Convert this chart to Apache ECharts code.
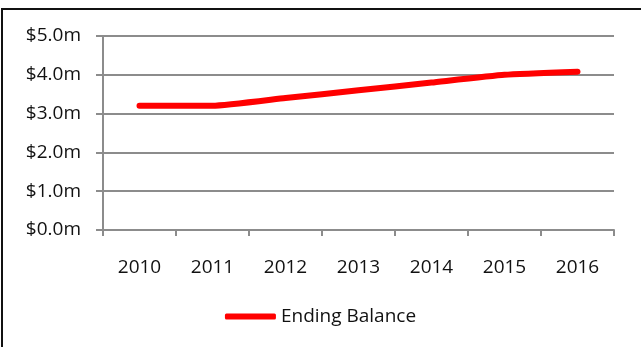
<!DOCTYPE html>
<html>
<head>
<meta charset="utf-8">
<script src="https://cdn.jsdelivr.net/npm/echarts@6/dist/echarts.min.js"></script>
<style>
  html, body { margin: 0; padding: 0; background: #fff; }
  #chart { width: 641px; height: 347px; }
</style>
</head>
<body>
<div id="chart"></div>
<script>
// Years on the category axis
const years = ['2010', '2011', '2012', '2013', '2014', '2015', '2016'];
// Ending balance per year, in millions of dollars
const endingBalance = [3.2, 3.2, 3.4, 3.6, 3.8, 4.0, 4.08];
const seriesName = 'Ending Balance';

const FONT = '"Open Sans", sans-serif';
const FONT_SIZE = 19;
const TEXT = '#111111';
const GRID_GREY = '#8c8c8c';

const chart = echarts.init(document.getElementById('chart'), null, { renderer: 'canvas' });

chart.setOption({
  animation: false,
  backgroundColor: '#ffffff',
  graphic: [{
    type: 'rect',
    shape: { x: 2, y: 9, width: 700, height: 400 },
    style: { fill: 'none', stroke: '#111', lineWidth: 2 },
    silent: true
  }],
  grid: { left: 103, right: 27, top: 36, bottom: 117 },
  legend: {
    data: [{ name: seriesName, icon: 'roundRect' }],
    left: 'center',
    top: 302,
    itemWidth: 51,
    itemHeight: 6,
    itemGap: 4,
    textStyle: { fontFamily: FONT, fontSize: FONT_SIZE, color: TEXT }
  },
  xAxis: {
    type: 'category',
    data: years,
    boundaryGap: true,
    axisLine: { lineStyle: { color: GRID_GREY, width: 2 } },
    axisTick: { show: true, length: 6, lineStyle: { color: GRID_GREY, width: 2 } },
    axisLabel: { margin: 28, fontFamily: FONT, fontSize: FONT_SIZE, color: TEXT },
    splitLine: { show: false }
  },
  yAxis: {
    type: 'value',
    min: 0,
    max: 5,
    interval: 1,
    axisLine: { show: true, lineStyle: { color: GRID_GREY, width: 2 } },
    axisTick: { show: true, length: 7, lineStyle: { color: GRID_GREY, width: 2 } },
    axisLabel: {
      margin: 22,
      fontFamily: FONT,
      fontSize: FONT_SIZE,
      color: TEXT,
      formatter: v => '$' + v.toFixed(1) + 'm'
    },
    splitLine: { show: true, lineStyle: { color: GRID_GREY, width: 2 } }
  },
  series: [{
    name: seriesName,
    type: 'line',
    data: endingBalance,
    symbol: 'none',
    smooth: 0.15,
    lineStyle: { color: '#ff0000', width: 6, cap: 'round', join: 'round' },
    itemStyle: { color: '#ff0000' }
  }]
});
</script>
</body>
</html>
